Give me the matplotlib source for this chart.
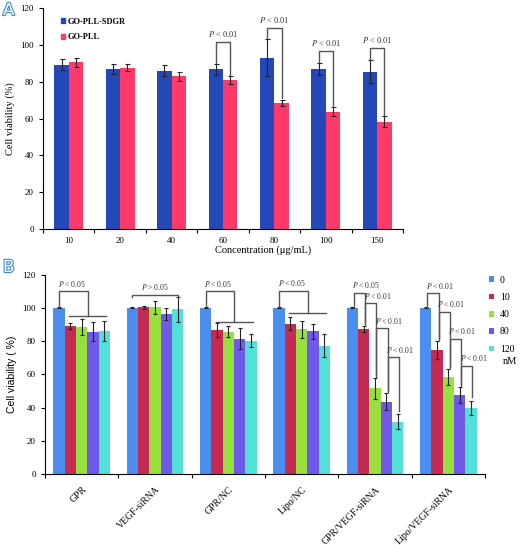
import matplotlib
matplotlib.use("Agg")
import matplotlib.pyplot as plt
import matplotlib.patheffects as pe
from matplotlib.patches import Patch
import numpy as np

plt.rcParams['font.family'] = ['Liberation Serif', 'DejaVu Serif']
plt.rcParams['mathtext.fontset'] = 'stix'

# ---- panel A data ----
conc = ["10", "20", "40", "60", "80", "100", "150"]
sdgr = [89.2, 87.1, 86.0, 86.7, 93.1, 86.8, 85.5]
sdgr_err = [2.9, 2.7, 2.8, 3.0, 9.9, 3.3, 6.0]
pll = [90.5, 87.6, 82.9, 80.9, 68.6, 63.6, 58.2]
pll_err = [2.4, 2.0, 2.5, 2.1, 1.6, 2.4, 3.0]
# significance brackets: (group index, bracket top)
sig_a = [(3, 101.4), (4, 109.0), (5, 96.8), (6, 98.5)]

# ---- panel B data ----
groups = ["GPR", "VEGF-siRNA", "GPR/NC", "Lipo/NC", "GPR/VEGF-siRNA", "Lipo/VEGF-siRNA"]
doses = ["0", "10", "40", "80", "120"]
viab = [
    [100.0, 89.1, 88.7, 85.7, 86.1],
    [100.0, 100.5, 100.3, 96.3, 99.1],
    [100.0, 86.7, 85.7, 81.5, 80.1],
    [100.0, 90.5, 87.1, 85.9, 77.1],
    [100.0, 87.5, 51.6, 43.5, 31.5],
    [100.0, 74.7, 58.4, 47.6, 39.7],
]
viab_err = [
    [0.3, 1.7, 4.8, 5.6, 5.9],
    [0.3, 0.9, 4.0, 3.5, 7.7],
    [0.3, 4.3, 3.3, 6.4, 3.9],
    [0.3, 3.9, 5.3, 4.5, 6.9],
    [0.3, 1.8, 6.5, 5.2, 4.6],
    [0.3, 5.4, 4.9, 4.8, 4.4],
]
# group vs rest brackets: (group, top, line level)
sig_rest = [(0, 110.0, 95.0), (2, 110.0, 91.7), (3, 110.2, 96.7)]
# stepwise brackets: (group, left bar, top, label)
sig_step = [
    (4, 0, 109.2, "$P$ < 0.05"), (4, 1, 102.7, "$P$ < 0.01"),
    (4, 2, 87.7, "$P$ < 0.01"), (4, 3, 70.2, "$P$ < 0.01"),
    (5, 0, 108.8, "$P$ < 0.01"), (5, 1, 97.7, "$P$ < 0.01"),
    (5, 2, 81.3, "$P$ < 0.01"), (5, 3, 65.2, "$P$ < 0.01"),
]

blue_a = "#2448b8"
pink_a = "#ff3a6a"
colors_b = ["#4a8ff0", "#c42a52", "#98e040", "#7058e8", "#52e0d8"]
brk = "#555555"

fig = plt.figure(figsize=(5.2, 5.45), dpi=100)


def style_axes(ax, n):
    ax.spines['top'].set_visible(False)
    ax.spines['right'].set_visible(False)
    ax.set_xlim(-0.5, n - 0.5)
    ax.set_ylim(0, 120)
    ax.set_yticks(range(0, 121, 20))
    ax.set_xticks(np.arange(-0.5, n, 1.0))
    ax.set_xticklabels([])
    ax.set_xticks(np.arange(n), minor=True)
    ax.tick_params(axis='x', which='minor', length=0)
    ax.tick_params(axis='both', which='major', length=3, width=0.8, labelsize=6.5)


def bracket(ax, x1, y1, x2, y2, top, text, ha='center', fs=5.5):
    ax.plot([x1, x1, x2, x2], [y1, top, top, y2], color=brk, lw=1.0)
    tx = (x1 + x2) / 2 if ha == 'center' else x1 - 0.02
    ax.text(tx, top + 1.5, text, ha=ha, va='bottom', fontsize=fs, color='#333333')


# ---------------- panel A ----------------
axA = fig.add_axes([43 / 520, 1 - 229 / 545, 360 / 520, 221 / 545])
xa = np.arange(len(conc))
w = 0.28
ek = dict(ecolor='#222222', elinewidth=0.8, capsize=1.8, capthick=0.8)
axA.bar(xa - w / 2, sdgr, w, yerr=sdgr_err, color=blue_a, label="GO-PLL-SDGR", error_kw=ek)
axA.bar(xa + w / 2, pll, w, yerr=pll_err, color=pink_a, label="GO-PLL", error_kw=ek)
style_axes(axA, len(conc))
axA.set_xticklabels(conc, minor=True, fontsize=6.5)
axA.tick_params(axis='x', which='minor', pad=6)
axA.set_xlabel("Concentration (μg/mL)", fontsize=7.5, labelpad=0, x=0.61)
axA.set_ylabel("Cell viability (%)", fontsize=7.5, labelpad=4)
for g, top in sig_a:
    bracket(axA, g - w / 2, sdgr[g] + sdgr_err[g] + 0.5, g + w / 2,
            pll[g] + pll_err[g] + 0.8, top, "$P$ < 0.01", fs=6)
axA.legend(handles=[Patch(color=blue_a), Patch(color=pink_a)],
           labels=["GO-PLL-SDGR", "GO-PLL"], loc='upper left',
           bbox_to_anchor=(0.03, 0.99), frameon=False, handlelength=0.5,
           handleheight=0.5, handletextpad=0.3, labelspacing=0.9,
           prop={'weight': 'bold', 'size': 6})

# ---------------- panel B ----------------
axB = fig.add_axes([45 / 520, 1 - 474 / 545, 440 / 520, 199.3 / 545])
xb = np.arange(len(groups))
wb = 0.154
ekb = dict(ecolor='#222222', elinewidth=0.8, capsize=1.6, capthick=0.8)
vals = np.array(viab)
errs = np.array(viab_err)
for k, d in enumerate(doses):
    axB.bar(xb + (k - 2) * wb, vals[:, k], wb, yerr=errs[:, k], color=colors_b[k],
            label=d, error_kw=ekb)
style_axes(axB, len(groups))
axB.set_xticklabels(groups, minor=True, rotation=45, ha='right',
                    rotation_mode='anchor', fontsize=7)
axB.tick_params(axis='x', which='minor', pad=8)
axB.set_ylabel("Cell viability ( %)", fontsize=7.5, labelpad=4,
               family=['Liberation Sans', 'DejaVu Sans'])


def bx(g, k):
    return g + (k - 2) * wb


for g, top, line in sig_rest:
    x_lo, x_hi = bx(g, 1) - 0.02, bx(g, 4) + 0.03
    axB.plot([x_lo, x_hi], [line, line], color=brk, lw=1.0)
    bracket(axB, bx(g, 0), vals[g, 0] + 0.5, (x_lo + x_hi) / 2, line, top,
            "$P$ < 0.05", ha='left')

# VEGF-siRNA: no significance
axB.plot([bx(1, 0), bx(1, 0), bx(1, 4), bx(1, 4)], [106.5, 108, 108, 106.5], color=brk, lw=1.0)
axB.text((bx(1, 0) + bx(1, 4)) / 2, 109.5, "$P$ > 0.05", ha='center', va='bottom',
         fontsize=5.5, color='#333333')

for g, k, top, lab in sig_step:
    x1, x2 = bx(g, k) + 0.02, bx(g, k + 1) + 0.02
    bracket(axB, x1, vals[g, k] + errs[g, k] + 0.5, x2,
            vals[g, k + 1] + errs[g, k + 1] + 2, top, lab, ha='left')

axB.legend(loc='upper left', bbox_to_anchor=(1.01, 0.995), frameon=False,
           handlelength=0.5, handleheight=0.5, handletextpad=0.6,
           labelspacing=0.85, fontsize=7, borderaxespad=0.0, borderpad=0.0)
fig.text(503 / 520, 1 - 361 / 545, "nM", fontsize=7.5, ha='left', va='center')

# panel letters (outlined)
for lab, yy in [("A", 1 - 10 / 545), ("B", 1 - 267 / 545)]:
    fig.text(3 / 520, yy, lab, fontsize=12, ha='left', va='center',
             family=['DejaVu Sans'], color='white',
             path_effects=[pe.withStroke(linewidth=1.6, foreground='#3a86d8')])

fig.savefig("out.png", dpi=100)
